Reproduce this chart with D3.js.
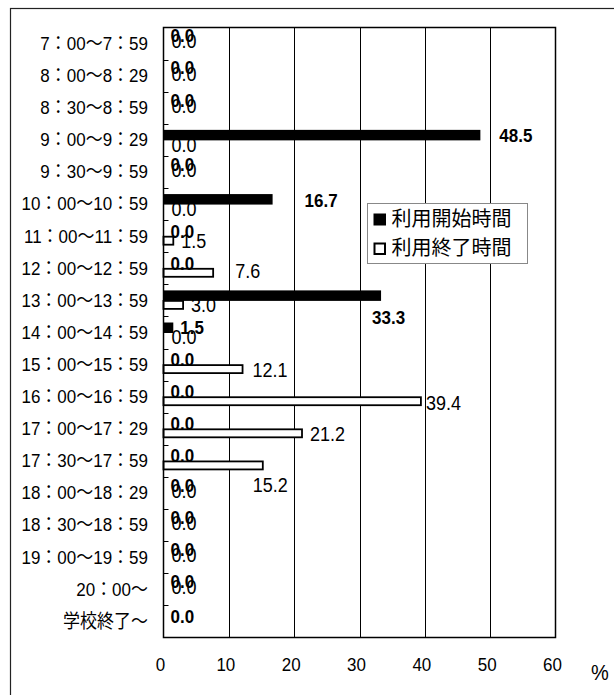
<!DOCTYPE html>
<html>
<head>
<meta charset="utf-8">
<script src="https://cdn.jsdelivr.net/npm/d3@7"></script>
<style>
  html, body { margin: 0; padding: 0; background: #fff; }
  svg { display: block; }
  text { font-family: 'Liberation Sans', Arial, 'Noto Sans CJK JP', sans-serif; fill: #000; }
</style>
</head>
<body>
<svg id="chart" width="614" height="695"></svg>
<script>
// time slots, top to bottom
const categories = [
  '7：00～7：59', '8：00～8：29', '8：30～8：59', '9：00～9：29', '9：30～9：59',
  '10：00～10：59', '11：00～11：59', '12：00～12：59', '13：00～13：59', '14：00～14：59',
  '15：00～15：59', '16：00～16：59', '17：00～17：29', '17：30～17：59', '18：00～18：29',
  '18：30～18：59', '19：00～19：59', '20：00～', '学校終了～'
];
const startValues = [0, 0, 0, 48.5, 0, 16.7, 0, 0, 33.3, 1.5, 0, 0, 0, 0, 0, 0, 0, 0, 0];
const endValues = [0, 0, 0, 0, 0, 0, 1.5, 7.6, 3.0, 0, 12.1, 39.4, 21.2, 15.2, 0, 0, 0, 0, null];
const xTicks = [0, 10, 20, 30, 40, 50, 60];
const seriesNames = ['利用開始時間', '利用終了時間'];

// labels that were dragged by hand in the original: [dx, dy]
const startNudge = { 3: [12, 1], 5: [25, 2], 8: [-16, 22] };
const endNudge = { 7: [14, -2], 10: [2, 1], 11: [-3, 1], 13: [-18, 19] };

const svg = d3.select('#chart');

// outer frame (runs off the right and bottom edges)
svg.append('rect')
  .attr('x', 10.5).attr('y', 8.5)
  .attr('width', 700).attr('height', 700)
  .attr('fill', '#fff').attr('stroke', '#222').attr('stroke-width', 1.2);

const x = d3.scaleLinear().domain([0, 60]).range([163.5, 555.5]);
const y = d3.scaleBand().domain(categories).range([27.5, 637.5]);
const c = d => y(d) + y.bandwidth() / 2;
// the original text is a little taller than it is wide
const tall = (tx, ty) => `translate(${tx},${ty}) scale(1,1.12)`;

// gridlines
svg.append('g')
  .selectAll('line')
  .data(xTicks.slice(1, -1))
  .join('line')
  .attr('x1', d => Math.round(x(d)) + 0.5).attr('x2', d => Math.round(x(d)) + 0.5)
  .attr('y1', y.range()[0]).attr('y2', y.range()[1])
  .attr('stroke', '#000').attr('stroke-width', 1);

// y ticks between categories, drawn inside the plot
svg.append('g')
  .selectAll('line')
  .data(categories.slice(1))
  .join('line')
  .attr('x1', x(0)).attr('x2', x(0) + 5)
  .attr('y1', d => Math.round(y(d)) + 0.5).attr('y2', d => Math.round(y(d)) + 0.5)
  .attr('stroke', '#000').attr('stroke-width', 1);

// bars
const rows = categories.map((cat, i) => ({ cat, i, s: startValues[i], e: endValues[i] }));

svg.append('g')
  .selectAll('rect')
  .data(rows.filter(r => r.s > 0))
  .join('rect')
  .attr('x', x(0)).attr('y', d => c(d.cat) - 10)
  .attr('width', d => x(d.s) - x(0)).attr('height', 10.5)
  .attr('fill', '#000');

svg.append('g')
  .selectAll('rect')
  .data(rows.filter(r => r.e > 0))
  .join('rect')
  .attr('x', x(0)).attr('y', d => c(d.cat) + 0.5)
  .attr('width', d => x(d.e) - x(0)).attr('height', 8)
  .attr('fill', '#fff').attr('stroke', '#000').attr('stroke-width', 1.8);

// plot frame
svg.append('rect')
  .attr('x', x(0)).attr('y', y.range()[0])
  .attr('width', x(60) - x(0)).attr('height', y.range()[1] - y.range()[0])
  .attr('fill', 'none').attr('stroke', '#000').attr('stroke-width', 1.5);

// category labels
svg.append('g')
  .selectAll('text')
  .data(categories)
  .join('text')
  .attr('transform', d => tall(148, c(d)))
  .attr('text-anchor', 'end').attr('dominant-baseline', 'central')
  .attr('font-size', 17)
  .text(d => d);

// x tick labels
svg.append('g')
  .selectAll('text')
  .data(xTicks)
  .join('text')
  .attr('transform', d => tall(x(d) - 3, 671))
  .attr('text-anchor', 'middle').attr('font-size', 17)
  .text(d => d);

svg.append('text')
  .attr('transform', tall(600, 680))
  .attr('text-anchor', 'middle').attr('font-size', 20)
  .text('%');

// value labels
const fmt = d3.format('.1f');
const bothZero = r => r.s === 0 && r.e === 0;

svg.append('g')
  .selectAll('text')
  .data(rows.filter(r => r.e !== null))
  .join('text')
  .attr('transform', d => tall(
    x(d.e) + 8 + (endNudge[d.i] ? endNudge[d.i][0] : 0),
    c(d.cat) + (bothZero(d) ? -2 : 5) + (endNudge[d.i] ? endNudge[d.i][1] : 0)))
  .attr('dominant-baseline', 'central').attr('font-size', 18)
  .text(d => fmt(d.e));

svg.append('g')
  .selectAll('text')
  .data(rows)
  .join('text')
  .attr('transform', d => tall(
    x(d.s) + 7 + (startNudge[d.i] ? startNudge[d.i][0] : 0),
    c(d.cat) + (bothZero(d) ? -7.5 : -5) + (startNudge[d.i] ? startNudge[d.i][1] : 0)))
  .attr('dominant-baseline', 'central').attr('font-size', 17).attr('font-weight', 'bold')
  .text(d => fmt(d.s));

// legend
const lg = svg.append('g').attr('transform', 'translate(367.5,203.5)');
lg.append('rect')
  .attr('width', 160).attr('height', 60)
  .attr('fill', '#fff').attr('stroke', '#888').attr('stroke-width', 1);
const item = lg.selectAll('g.item')
  .data(seriesNames)
  .join('g')
  .attr('class', 'item')
  .attr('transform', (d, i) => `translate(0,${i * 29})`);
item.append('rect')
  .attr('x', (d, i) => i ? 7 : 6).attr('y', (d, i) => i ? 11 : 10)
  .attr('width', (d, i) => i ? 10.5 : 12.5).attr('height', (d, i) => i ? 10.5 : 12)
  .attr('fill', (d, i) => i ? '#fff' : '#000')
  .attr('stroke', '#000').attr('stroke-width', (d, i) => i ? 2 : 0);
item.append('text')
  .attr('x', 24).attr('y', 22.5)
  .attr('font-size', 20)
  .text(d => d);
</script>
</body>
</html>
